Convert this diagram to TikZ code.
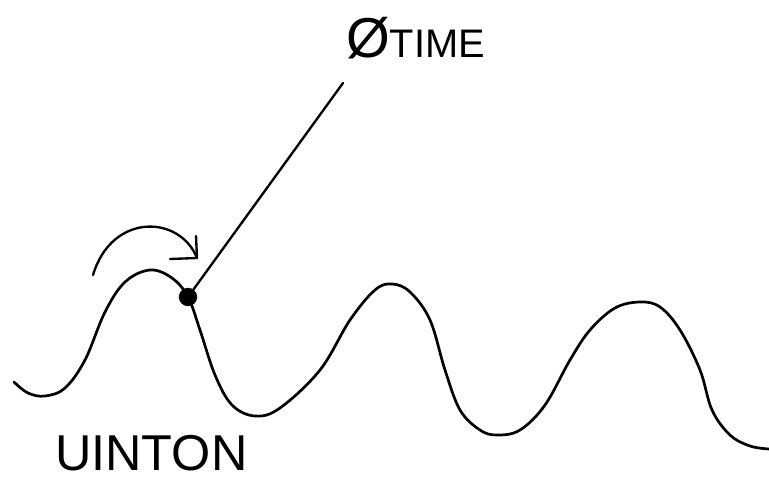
\documentclass[tikz,border=0pt]{standalone}
\usepackage{fontspec}
\setmainfont{Liberation Sans}
\usetikzlibrary{arrows.meta,positioning,calc}

\begin{document}
\begin{tikzpicture}[x=0.03cm, y=-0.03cm, line cap=round, line join=round,
  wave/.style={draw=black, line width=2.3pt},
  pointer/.style={draw=black, line width=2pt},
  dot/.style={circle, fill=black, inner sep=0pt, minimum size=0.55cm},
  hand/.style={font=\fontsize{43}{43}\selectfont, inner sep=0pt}]
  \useasboundingbox (0,0) rectangle (769,482);
  % the wave
  \draw[wave] plot[smooth, tension=0.6] coordinates {
    (14,382) (28,393) (45,396) (65,388) (85,360) (105,312) (125,282)
    (150,270) (172,278) (188,297) (200,330) (215,375) (232,405) (255,416)
    (280,408) (320,370) (350,320) (375,290) (392,284) (410,292) (430,320)
    (445,370) (460,410) (480,430) (497,435) (520,430) (545,405) (570,360)
    (590,330) (615,308) (640,302) (660,307) (680,330) (700,370) (712,410)
    (730,435) (750,446) (769,449)};
  % the point on the wave and its label
  \node[dot] (now) at (188,297) {};
  \coordinate (top) at (343,83);
  \draw[pointer] (now) -- (top);
  \node[hand, anchor=base west] (label) at (346,58)
    {\fontsize{48}{48}\selectfont Ø\fontsize{34}{34}\selectfont TIME};
  % arrow over the first crest
  \coordinate (astart) at (93,275);
  \coordinate (aend) at (197,258);
  \draw[pointer] (astart) .. controls (112,212) and (180,215) .. (aend);
  \draw[pointer] (170,259) -- (aend) -- (196,236);
  \node[hand, anchor=base west] (name) at (55,470) {UINTON};
\end{tikzpicture}
\end{document}
